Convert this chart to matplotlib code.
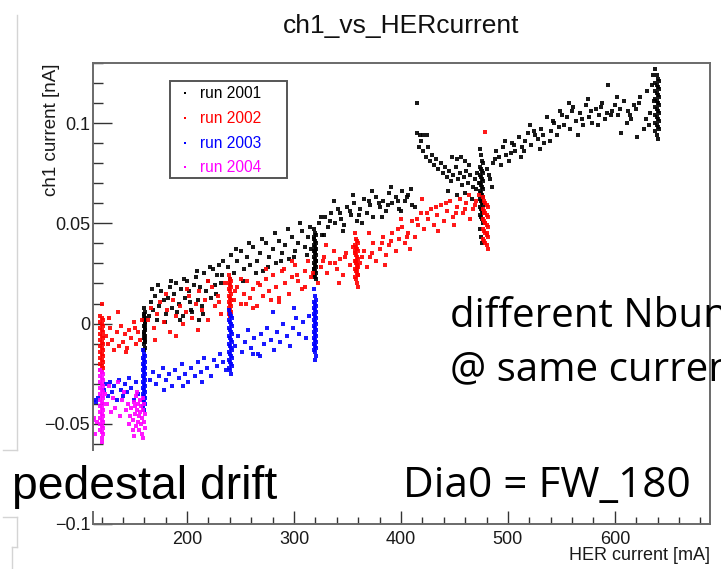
import matplotlib
matplotlib.use("Agg")
import matplotlib.pyplot as plt
from matplotlib.patches import Rectangle
from matplotlib.lines import Line2D
from matplotlib.ticker import FixedLocator, FixedFormatter

# ---------------- data ----------------
title = "ch1_vs_HERcurrent"
x_label = "HER current [mA]"
y_label = "ch1 current [nA]"
run_labels = ["run 2001", "run 2002", "run 2003", "run 2004"]
run_colors = ["#000000", "#ff0000", "#0000ff", "#ff00ff"]
x_major = [200, 300, 400, 500, 600]
x_major_labels = ["200", "300", "400", "500", "600"]
y_major = [-0.1, -0.05, 0.0, 0.05, 0.1]
y_major_labels = ["\u22120.1", "\u22120.05", "0", "0.05", "0.1"]

# run 2001 : scattered points
run2001_x = [164, 166, 168, 170, 172, 174, 176, 178, 180, 182, 184, 186, 188, 190, 192, 194, 196, 198,
             200, 202, 204, 206, 208, 210, 212, 214, 216, 218, 220, 222, 224, 226, 228, 230, 232, 234,
             167, 173, 179, 185, 191, 197, 203, 209, 215, 221, 227, 233, 193, 205, 211,
             238, 241, 244, 247, 250, 253, 256, 259, 262, 265, 268, 271, 274, 277, 280, 283, 286, 289,
             292, 295, 298, 301, 304, 307, 310, 313, 316,
             240, 246, 252, 258, 264, 270, 276, 282, 288, 294, 300, 306, 312, 315,
             323, 326, 329, 332, 335, 338, 341, 344, 347, 350, 353, 356, 359, 362, 365, 368, 371, 374,
             377, 380, 383, 386, 389, 392, 395, 398, 401, 404, 407, 410, 413,
             328, 337, 346, 355, 364, 373, 382, 391, 400, 409,
             325, 334, 343, 352, 361, 370, 379, 388, 397, 406,
             415, 415, 418, 421, 424, 417, 419, 421, 423, 425, 427, 429, 431, 433, 435, 437, 439, 441,
             443, 445, 447, 449, 451, 453, 455, 457, 459, 461, 463, 465, 467, 469, 471, 473,
             448, 452, 456, 460, 464, 444, 452, 460, 466, 470,
             480, 483, 486, 489, 492, 495, 498, 501, 504, 507, 510, 513, 516, 519, 522, 525, 528, 531,
             534, 537, 540, 543, 546, 549, 552, 555, 558, 561, 564, 567, 570, 573, 576, 579, 582, 585,
             588, 591, 594, 597, 600, 603, 606, 609, 612, 615, 618, 621, 624, 627, 630, 633, 635, 637,
             485, 494, 503, 512, 521, 530, 539, 548, 557, 566, 575, 584, 593, 602, 611, 620, 629, 636,
             482, 488, 497, 506, 515, 524, 533, 542, 551, 560, 569, 578, 587, 596, 605, 614, 623, 632]
run2001_y = [0.004, 0.011, 0.007, 0.014, 0.002, 0.009, 0.016, 0.012, 0.005, 0.013, 0.018, 0.008, 0.015,
             0.020, 0.010, 0.017, 0.004, 0.013, 0.021, 0.016, 0.007, 0.019, 0.023, 0.012, 0.018, 0.009,
             0.025, 0.016, 0.021, 0.013, 0.027, 0.019, 0.024, 0.029, 0.020, 0.031,
             0.017, 0.019, 0.001, 0.021, 0.006, 0.022, 0.011, 0.026, 0.005, 0.028, 0.015, 0.024,
             0.002, 0.006, 0.002,
             0.028, 0.034, 0.025, 0.031, 0.036, 0.027, 0.033, 0.029, 0.038, 0.031, 0.035, 0.026, 0.040,
             0.033, 0.037, 0.030, 0.041, 0.035, 0.039, 0.032, 0.043, 0.036, 0.040, 0.046, 0.038, 0.043,
             0.037,
             0.022, 0.037, 0.021, 0.040, 0.025, 0.042, 0.028, 0.045, 0.031, 0.047, 0.033, 0.050, 0.034,
             0.048,
             0.050, 0.044, 0.053, 0.048, 0.055, 0.050, 0.057, 0.052, 0.049, 0.058, 0.054, 0.060, 0.051,
             0.057, 0.062, 0.055, 0.059, 0.053, 0.063, 0.058, 0.061, 0.056, 0.065, 0.060, 0.063, 0.057,
             0.066, 0.061, 0.064, 0.059, 0.058,
             0.044, 0.061, 0.046, 0.064, 0.050, 0.066, 0.053, 0.068, 0.056, 0.067,
             0.053, 0.051, 0.055, 0.056, 0.054, 0.061, 0.060, 0.059, 0.061, 0.063,
             0.110, 0.095, 0.094, 0.094, 0.094, 0.088, 0.091, 0.086, 0.083, 0.088, 0.081, 0.084, 0.079,
             0.082, 0.077, 0.080, 0.075, 0.078, 0.073, 0.076, 0.071, 0.074, 0.078, 0.072, 0.075, 0.069,
             0.073, 0.076, 0.070, 0.074, 0.068, 0.072, 0.075, 0.070,
             0.083, 0.082, 0.083, 0.081, 0.079, 0.066, 0.064, 0.065, 0.062, 0.067,
             0.077, 0.072, 0.080, 0.086, 0.083, 0.088, 0.084, 0.081, 0.090, 0.086, 0.093, 0.088, 0.091,
             0.095, 0.089, 0.094, 0.092, 0.097, 0.090, 0.103, 0.096, 0.100, 0.094, 0.106, 0.099, 0.103,
             0.097, 0.108, 0.101, 0.105, 0.099, 0.109, 0.103, 0.100, 0.107, 0.104, 0.110, 0.102, 0.119,
             0.106, 0.109, 0.104, 0.095, 0.111, 0.106, 0.102, 0.109, 0.093, 0.113, 0.097, 0.116, 0.105,
             0.119, 0.111,
             0.068, 0.079, 0.085, 0.083, 0.099, 0.087, 0.091, 0.098, 0.110, 0.094, 0.112, 0.099, 0.105,
             0.113, 0.100, 0.107, 0.102, 0.124,
             0.074, 0.082, 0.091, 0.089, 0.086, 0.096, 0.094, 0.101, 0.104, 0.106, 0.102, 0.106, 0.108,
             0.104, 0.107, 0.104, 0.110, 0.099]

# run 2001 : bunches taken at fixed current
run2001_bunch_x = [160, 161, 160, 161, 160, 161, 160, 161, 160, 161, 160, 161, 160, 161, 160, 161, 160, 161, 160, 161,
                   319, 320, 321, 319, 320, 321, 319, 320, 321, 319, 320, 321, 319, 320, 321, 319, 320, 321,
                   319, 320, 321, 319, 320, 321, 319, 320, 321, 319,
                   474, 475, 476, 477, 474, 475, 476, 477, 474, 475, 476, 477, 474, 475, 476, 477, 474, 475,
                   476, 477, 474, 475, 476, 477, 474, 475, 476, 477, 474, 475, 476, 477, 474, 475, 476,
                   638, 639, 640, 641, 638, 639, 640, 641, 638, 639, 640, 641, 638, 639, 640, 641, 638, 639,
                   640, 641, 638, 639, 640, 641, 638, 639, 640, 641, 638, 639, 640]
run2001_bunch_y = [0.008, 0.006, 0.005, 0.003, 0.002, 0.000, -0.001, -0.003, -0.004, -0.006, -0.007, -0.009,
                   -0.010, -0.012, -0.013, 0.001, -0.005, -0.008, 0.004, -0.002,
                   0.047, 0.045, 0.044, 0.042, 0.041, 0.040, 0.039, 0.038, 0.037, 0.036, 0.035, 0.034, 0.033,
                   0.032, 0.031, 0.030, 0.029, 0.028, 0.027, 0.026, 0.025, 0.024, 0.023, 0.022, 0.043, 0.036,
                   0.031, 0.027,
                   0.087, 0.084, 0.081, 0.080, 0.078, 0.077, 0.076, 0.075, 0.074, 0.073, 0.072, 0.071, 0.070,
                   0.069, 0.068, 0.067, 0.066, 0.065, 0.064, 0.063, 0.062, 0.061, 0.060, 0.059, 0.058, 0.057,
                   0.056, 0.055, 0.054, 0.053, 0.052, 0.050, 0.047, 0.043, 0.040,
                   0.127, 0.124, 0.122, 0.121, 0.120, 0.119, 0.118, 0.117, 0.116, 0.115, 0.114, 0.113, 0.112,
                   0.111, 0.110, 0.109, 0.108, 0.107, 0.106, 0.105, 0.104, 0.103, 0.102, 0.101, 0.100, 0.099,
                   0.098, 0.097, 0.096, 0.094, 0.092]

# run 2002
run2002_x = [124, 126, 128, 130, 132, 134, 136, 138, 140, 142, 144, 146, 148, 150, 152, 154, 156, 158,
             163, 166, 169, 172, 175, 178, 181, 184, 187, 190, 193, 196, 199, 202, 205, 208, 211, 214,
             217, 220, 223, 226, 229, 232, 235, 127, 135, 143, 151, 170, 180, 190, 200, 210, 220, 230,
             244, 247, 250, 253, 256, 259, 262, 265, 268, 271, 274, 277, 280, 283, 286, 289, 292, 295,
             298, 301, 304, 307, 310, 313, 316, 322, 325, 328, 331, 334, 337, 340, 343, 346, 349, 352, 355,
             250, 262, 274, 286, 298, 310, 330, 342,
             245, 255, 266, 278, 291, 303, 318, 327, 338, 348,
             362, 365, 368, 371, 374, 377, 380, 383, 386, 389, 392, 395, 398, 401, 404, 407, 410, 413,
             416, 419, 422, 425, 428, 431, 434, 437, 440, 443, 446, 449, 452, 455, 458, 461, 464, 467,
             470, 473, 370, 385, 400, 408, 420, 435, 450, 465,
             364, 373, 382, 391, 397, 406, 415, 424, 433, 442, 451, 460, 469]
run2002_y = [-0.006, -0.010, -0.002, -0.008, -0.013, -0.004, -0.011, -0.001, -0.009, -0.005, -0.012, -0.003,
             -0.007, 0.001, -0.010, -0.004, -0.008, 0.002,
             0.002, 0.008, -0.002, 0.005, 0.011, 0.001, 0.007, -0.004, 0.012, 0.004, 0.009, 0.000, 0.006,
             0.014, 0.003, 0.010, 0.016, 0.007, 0.012, 0.002, 0.018, 0.009, 0.014, 0.005, 0.020,
             0.003, 0.006, -0.014, -0.002, -0.008, 0.015, -0.006, 0.017, -0.003, 0.021, 0.011,
             0.012, 0.018, 0.010, 0.015, 0.021, 0.013, 0.017, 0.009, 0.019, 0.014, 0.022, 0.016, 0.024,
             0.018, 0.013, 0.026, 0.020, 0.015, 0.023, 0.029, 0.021, 0.017, 0.026, 0.031, 0.023, 0.020,
             0.028, 0.033, 0.025, 0.030, 0.036, 0.027, 0.032, 0.024, 0.035, 0.029, 0.038,
             0.022, 0.008, 0.027, 0.011, 0.031, 0.018, 0.039, 0.020,
             0.016, 0.010, 0.020, 0.012, 0.027, 0.024, 0.025, 0.031, 0.030, 0.033,
             0.030, 0.036, 0.028, 0.033, 0.040, 0.031, 0.037, 0.043, 0.034, 0.039, 0.045, 0.036, 0.042,
             0.048, 0.040, 0.045, 0.051, 0.043, 0.049, 0.055, 0.047, 0.052, 0.057, 0.049, 0.054, 0.059,
             0.051, 0.056, 0.061, 0.053, 0.058, 0.062, 0.055, 0.060, 0.064, 0.057, 0.061, 0.064,
             0.045, 0.029, 0.052, 0.037, 0.062, 0.046, 0.049, 0.052,
             0.033, 0.035, 0.040, 0.041, 0.047, 0.043, 0.052, 0.055, 0.058, 0.060, 0.055, 0.057, 0.059]
run2002_bunch_x = [120, 119, 120, 121, 119, 120, 121, 119, 120, 121, 119, 120, 121, 119, 120, 121, 119, 120,
                   121, 119, 120, 121, 119, 120, 121, 119, 120, 121, 119, 120,
                   239, 240, 241, 239, 240, 241, 239, 240, 241, 239, 240, 241, 239, 240, 241, 239, 240, 241,
                   239, 240,
                   357, 358, 359, 360, 357, 358, 359, 360, 357, 358, 359, 360, 357, 358, 359, 360, 357, 358,
                   359, 360, 357, 358, 359, 360, 357, 358, 359, 360,
                   479, 477, 478, 479, 480, 481, 477, 478, 479, 480, 481, 477, 478, 479, 480, 481, 477, 478,
                   479, 480, 481, 477, 478, 479, 480, 481, 478, 479, 480]
run2002_bunch_y = [0.010, 0.004, 0.003, 0.002, 0.001, 0.000, -0.001, -0.002, -0.003, -0.004, -0.005, -0.006,
                   -0.007, -0.008, -0.009, -0.010, -0.011, -0.012, -0.013, -0.014, -0.015, -0.016, -0.017,
                   -0.018, -0.019, -0.020, -0.021, -0.022, -0.023, -0.024,
                   0.024, 0.022, 0.021, 0.020, 0.019, 0.018, 0.017, 0.016, 0.015, 0.014, 0.013, 0.012, 0.011,
                   0.010, 0.009, 0.008, 0.007, 0.006, 0.005, 0.004,
                   0.045, 0.042, 0.041, 0.040, 0.039, 0.038, 0.037, 0.036, 0.035, 0.034, 0.033, 0.032, 0.031,
                   0.030, 0.029, 0.028, 0.027, 0.026, 0.025, 0.024, 0.023, 0.022, 0.020, 0.018, 0.036, 0.031,
                   0.027, 0.024,
                   0.0955, 0.063, 0.061, 0.060, 0.059, 0.058, 0.057, 0.056, 0.055, 0.054, 0.053, 0.052, 0.051,
                   0.050, 0.049, 0.048, 0.047, 0.046, 0.045, 0.044, 0.043, 0.042, 0.041, 0.040, 0.039, 0.037,
                   0.055, 0.050, 0.045]

# run 2003
run2003_x = [113, 115, 117,
             122, 124, 126, 128, 130, 132, 134, 136, 138, 140, 142, 144, 146, 148, 150, 152, 154,
             165, 168, 171, 174, 177, 180, 183, 186, 189, 192, 195, 198, 201, 204, 207, 210, 213, 216,
             219, 222, 225, 228, 231, 234, 236, 178, 196, 214,
             245, 248, 251, 254, 257, 260, 263, 266, 269, 272, 275, 278, 281, 284, 287, 290, 293, 296,
             299, 302, 305, 308, 311, 314, 262, 268, 280, 300]
run2003_y = [-0.038, -0.039, -0.037,
             -0.033, -0.030, -0.036, -0.029, -0.034, -0.031, -0.038, -0.028, -0.033, -0.036, -0.030,
             -0.034, -0.027, -0.032, -0.038, -0.029, -0.035,
             -0.028, -0.024, -0.030, -0.026, -0.022, -0.028, -0.025, -0.031, -0.023, -0.027, -0.020,
             -0.025, -0.029, -0.022, -0.026, -0.019, -0.024, -0.017, -0.022, -0.026, -0.018, -0.021,
             -0.015, -0.019, -0.023, -0.033, -0.031, -0.029,
             -0.011, -0.006, -0.014, -0.009, -0.003, -0.012, -0.007, -0.015, -0.005, -0.010, -0.002,
             -0.008, -0.013, -0.004, -0.009, 0.000, -0.006, -0.011, -0.002, 0.003, -0.005, 0.001,
             -0.007, 0.004, -0.015, -0.016, 0.006, 0.008]
run2003_bunch_x = [159, 160, 161, 159, 160, 161, 159, 160, 161, 159, 160, 161, 159, 160, 161, 159, 160, 161,
                   159, 160, 161, 159, 160, 161, 159, 160, 161, 159, 160,
                   239, 240, 241, 242, 239, 240, 241, 242, 239, 240, 241, 242, 239, 240, 241, 242, 239, 240,
                   241, 242, 239, 240, 241, 242, 239, 240, 241, 242, 239, 240, 241,
                   319, 320, 321, 319, 320, 321, 319, 320, 321, 319, 320, 321, 319, 320, 321, 319, 320, 321,
                   319, 320, 321, 319, 320, 321, 319, 320, 321, 319, 320, 321, 320]
run2003_bunch_y = [-0.013, -0.015, -0.016, -0.017, -0.018, -0.019, -0.020, -0.021, -0.022, -0.023, -0.024,
                   -0.025, -0.026, -0.027, -0.028, -0.029, -0.030, -0.031, -0.032, -0.033, -0.034, -0.035,
                   -0.036, -0.037, -0.038, -0.039, -0.040, -0.041, -0.043,
                   0.007, 0.005, 0.004, 0.003, 0.002, 0.001, 0.000, -0.001, -0.002, -0.003, -0.004, -0.005,
                   -0.006, -0.007, -0.008, -0.009, -0.010, -0.011, -0.012, -0.013, -0.014, -0.015, -0.016,
                   -0.017, -0.018, -0.019, -0.020, -0.021, -0.022, -0.023, -0.025,
                   0.017, 0.014, 0.012, 0.011, 0.010, 0.009, 0.008, 0.007, 0.006, 0.005, 0.004, 0.003, 0.002,
                   0.001, 0.000, -0.001, -0.002, -0.003, -0.004, -0.005, -0.006, -0.007, -0.008, -0.009,
                   -0.010, -0.011, -0.012, -0.013, -0.014, -0.016, -0.018]

# run 2004
run2004_x = [112, 113, 114, 116,
             123, 125, 127, 129, 131, 133, 135, 137, 139, 141, 143, 145,
             148, 149, 150, 151, 152, 152, 153, 154, 154, 155, 155, 156, 156, 157, 157, 158, 158, 159,
             159, 160, 160, 161, 161, 149, 150, 153, 151, 147, 146, 159]
run2004_y = [-0.048, -0.047, -0.055, -0.049,
             -0.035, -0.040, -0.031, -0.044, -0.037, -0.042, -0.029, -0.046, -0.038, -0.034, -0.043,
             -0.040,
             -0.042, -0.048, -0.039, -0.045, -0.051, -0.036, -0.043, -0.049, -0.040, -0.046, -0.053,
             -0.038, -0.044, -0.050, -0.041, -0.047, -0.055, -0.037, -0.043, -0.049, -0.040, -0.045,
             -0.052, -0.053, -0.056, -0.034, -0.041, -0.046, -0.050, -0.057]
run2004_bunch_x = [119, 120, 121, 119, 120, 121, 119, 120, 121, 119, 120, 121, 119, 120, 121, 119, 120, 121,
                   119, 120, 121, 119, 120, 121, 119, 120, 121, 119, 120, 121, 119, 120, 121, 120, 120]
run2004_bunch_y = [-0.023, -0.024, -0.025, -0.026, -0.027, -0.028, -0.029, -0.030, -0.031, -0.032, -0.033,
                   -0.034, -0.035, -0.036, -0.037, -0.038, -0.039, -0.040, -0.041, -0.042, -0.043, -0.044,
                   -0.045, -0.046, -0.047, -0.048, -0.049, -0.050, -0.051, -0.052, -0.053, -0.054, -0.055,
                   -0.057, -0.059]

# ---------------- figure ----------------
W, H = 721, 569
fig = plt.figure(figsize=(W / 100, H / 100), dpi=100)
fig.patch.set_facecolor("white")


def fx(px):
    return px / W


def fy(py):
    return 1 - py / H


ROOT_FONT = "Liberation Sans"
SLIDE_FONT = "Open Sans"

ax = fig.add_axes([fx(93), fy(524), fx(710) - fx(93), fy(63) - fy(524)])
ax.set_xlim(112, 689)
ax.set_ylim(-0.1, 0.13)

series = [
    (run2001_x + run2001_bunch_x, run2001_y + run2001_bunch_y),
    (run2002_x + run2002_bunch_x, run2002_y + run2002_bunch_y),
    (run2003_x + run2003_bunch_x, run2003_y + run2003_bunch_y),
    (run2004_x + run2004_bunch_x, run2004_y + run2004_bunch_y),
]
for (xs, ys), col in zip(series, run_colors):
    ax.plot(xs, ys, linestyle="none", marker="s", ms=2.3, mew=0, color=col, alpha=0.9)

# axes styling (ROOT-like)
frame_col = "#6a6a6a"
for s in ax.spines.values():
    s.set_color(frame_col)
    s.set_linewidth(1.4)
ax.xaxis.set_major_locator(FixedLocator(x_major))
ax.xaxis.set_major_formatter(FixedFormatter(x_major_labels))
ax.xaxis.set_minor_locator(FixedLocator(list(range(120, 689, 20))))
ax.yaxis.set_major_locator(FixedLocator(y_major))
ax.yaxis.set_major_formatter(FixedFormatter(y_major_labels))
ax.yaxis.set_minor_locator(FixedLocator([v / 100 for v in range(-10, 14)]))
ax.tick_params(axis="x", which="major", direction="in", length=9.5, width=1.0, color="#333333",
               pad=5, labelsize=13)
ax.tick_params(axis="x", which="minor", direction="in", length=5, width=1.0, color="#333333")
ax.tick_params(axis="y", which="major", direction="in", length=14, width=1.0, color="#333333",
               pad=2, labelsize=13)
ax.tick_params(axis="y", which="minor", direction="in", length=7, width=1.0, color="#333333")
for lab in ax.get_xticklabels() + ax.get_yticklabels():
    lab.set_fontfamily(ROOT_FONT)
    lab.set_color("#1a1a1a")

# titles
fig.text(fx(401), fy(26), title, ha="center", va="center", fontsize=19, fontfamily=ROOT_FONT,
         color="#111111")
fig.text(fx(52), fy(63), y_label, rotation=90, ha="center", va="top", fontsize=13.5,
         fontfamily=ROOT_FONT, color="#1a1a1a")
fig.text(fx(710), fy(555), x_label, ha="right", va="center", fontsize=13,
         fontfamily=ROOT_FONT, color="#1a1a1a")

# legend (ROOT TLegend look)
fig.add_artist(Rectangle((fx(170), fy(178)), fx(287) - fx(170), fy(81) - fy(178),
                         transform=fig.transFigure, facecolor="white", edgecolor="#555555",
                         linewidth=1.4, zorder=3))
leg_rows = [93, 118, 143, 167]
for lab, col, ry in zip(run_labels, run_colors, leg_rows):
    fig.add_artist(Line2D([fx(185)], [fy(ry)], transform=fig.transFigure, linestyle="none",
                          marker="s", ms=2.0, mew=0, color=col, zorder=4))
    fig.text(fx(200), fy(ry), lab, ha="left", va="center", fontsize=11.2, fontfamily=ROOT_FONT,
             color=col, zorder=4)

# white strip pasted over the plot (slide overlay)
fig.add_artist(Rectangle((0, fy(511)), fx(705), fy(451) - fy(511), transform=fig.transFigure,
                         facecolor="white", edgecolor="none", zorder=5))

# slide annotations (cut by the right edge as in the slide)
fig.text(fx(450), fy(327), "different Nbunch", ha="left", va="baseline", fontsize=29,
         fontfamily=SLIDE_FONT, color="black", zorder=6)
fig.text(fx(450), fy(380), "@ same current", ha="left", va="baseline", fontsize=29,
         fontfamily=SLIDE_FONT, color="black", zorder=6)
fig.text(fx(12), fy(499), "pedestal drift", ha="left", va="baseline", fontsize=33.3,
         fontfamily=ROOT_FONT, color="black", zorder=6)
fig.text(fx(403), fy(497), "Dia0 = FW_180", ha="left", va="baseline", fontsize=30.5,
         fontfamily=SLIDE_FONT, color="black", zorder=6)

# faint slide-frame lines at the left edge
gray = "#d4d4d4"
for xs, ys in [([17, 17], [15, 450]), ([3, 17], [450, 450]), ([3, 17], [517, 517]),
               ([17, 17], [517, 547]), ([12, 17], [547, 547]), ([12, 12], [547, 569])]:
    fig.add_artist(Line2D([fx(v) for v in xs], [fy(v) for v in ys], transform=fig.transFigure,
                          color=gray, linewidth=1.0, zorder=6))

fig.savefig("out.png", dpi=100)
